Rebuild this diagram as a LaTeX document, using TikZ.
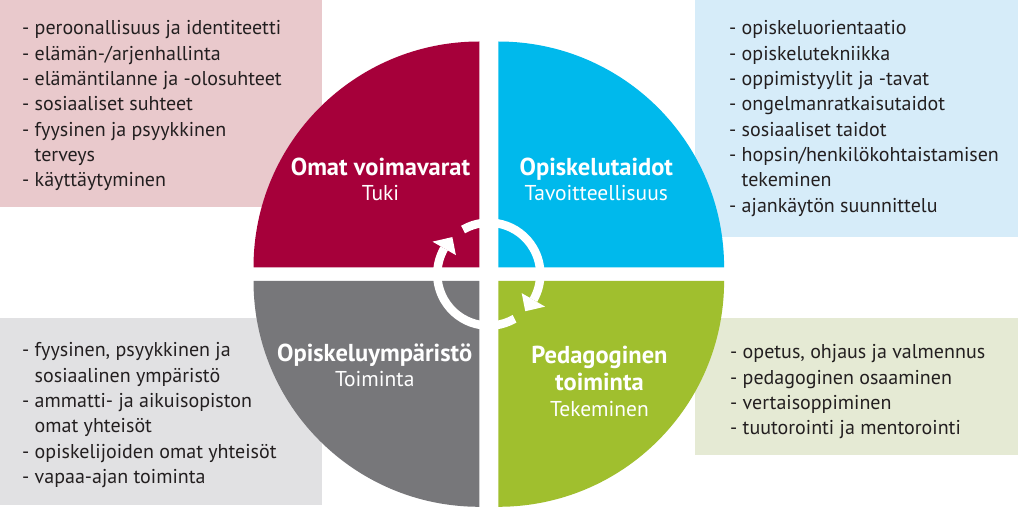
\documentclass[tikz,border=0pt]{standalone}
\usepackage{fontspec}
\setmainfont{PT Sans}
\definecolor{qred}{RGB}{166,0,58}
\definecolor{qblue}{RGB}{0,185,236}
\definecolor{qgray}{RGB}{119,119,122}
\definecolor{qgreen}{RGB}{160,191,46}
\definecolor{bpink}{RGB}{233,201,204}
\definecolor{bblue}{RGB}{214,236,249}
\definecolor{bgray}{RGB}{225,225,227}
\definecolor{bgreen}{RGB}{229,234,212}
\definecolor{txt}{RGB}{35,31,32}
\newcommand\lline[1]{\hbox{#1}}
\newcommand\cont[1]{\hbox{\hphantom{- }#1}}
\newcommand\cln[1]{\hbox to 0pt{\hss#1\hss}}
\begin{document}
\begin{tikzpicture}[x=1pt,y=1pt,
  listtxt/.style={anchor=base west, inner sep=0pt, text=txt, font=\fontsize{20}{25.3}\selectfont},
  qtitle/.style={anchor=base, inner sep=0pt, text=white, font=\bfseries\fontsize{24.5}{26.8}\selectfont},
  qsub/.style={anchor=base, inner sep=0pt, text=white, font=\fontsize{21.5}{26.5}\selectfont},
  ring/.style={draw=white, line width=8.5pt},
  tipfill/.style={fill=white}]
\useasboundingbox (0,0) rectangle (1023,509);
\fill[white] (0,0) rectangle (1023,509);
% background boxes
\fill[bpink] (0,302) rectangle (321.7,509);
\fill[bblue] (695,272.3) rectangle (1018,509);
\fill[bgray] (0,4) rectangle (321.7,190.7);
\fill[bgreen] (695,54) rectangle (1018,190.7);
% quadrants
\fill[qred] (479.3,241.7) -- ++(-225.8,0) arc[start angle=180, end angle=90, radius=225.8] -- cycle;
\fill[qblue] (498.3,241.7) -- ++(0,225.8) arc[start angle=90, end angle=0, radius=225.8] -- cycle;
\fill[qgray] (479.3,228) -- ++(-225.8,0) arc[start angle=180, end angle=270, radius=225.8] -- cycle;
\fill[qgreen] (498.3,228) -- ++(225.8,0) arc[start angle=0, end angle=-90, radius=225.8] -- cycle;
% cycle arrows
\coordinate (c) at (488.8,234.85);
\draw[ring] ([shift={(120:51.5)}]c) arc[start angle=120, end angle=-30, radius=51.5];
\fill[tipfill] ([shift={(-30:38)}]c) -- ([shift={(-30:65)}]c) -- ([shift={(-45.5:52)}]c) -- cycle;
\draw[ring] ([shift={(-60:51.5)}]c) arc[start angle=-60, end angle=-210, radius=51.5];
\fill[tipfill] ([shift={(150:38)}]c) -- ([shift={(150:65)}]c) -- ([shift={(134.5:52)}]c) -- cycle;
% quadrant labels
\node[qtitle] (omat) at (380.5,333) {Omat voimavarat};
\node[qsub] (tuki) at (380.5,308) {Tuki};
\node[qtitle] (opt) at (596.3,333) {Opiskelutaidot};
\node[qsub] (tav) at (596.3,308) {Tavoitteellisuus};
\node[qtitle] (ymp) at (374.7,147.3) {Opiskeluympäristö};
\node[qsub] (toim) at (374.7,122.3) {Toiminta};
\node[qtitle] (ped) at (599.5,145.7) {\vtop{\cln{Pedagoginen}\cln{toiminta}}};
\node[qsub] (tek) at (599.5,92.3) {Tekeminen};
% lists
\node[listtxt] (pinklist) at (22,474) {\vtop{%
  \lline{- peroonallisuus ja identiteetti}%
  \lline{- elämän-/arjenhallinta}%
  \lline{- elämäntilanne ja -olosuhteet}%
  \lline{- sosiaaliset suhteet}%
  \lline{- fyysinen ja psyykkinen}%
  \cont{terveys}%
  \lline{- käyttäytyminen}}};
\node[listtxt] (bluelist) at (729,474) {\vtop{%
  \lline{- opiskeluorientaatio}%
  \lline{- opiskelutekniikka}%
  \lline{- oppimistyylit ja -tavat}%
  \lline{- ongelmanratkaisutaidot}%
  \lline{- sosiaaliset taidot}%
  \lline{- hopsin/henkilökohtaistamisen}%
  \cont{tekeminen}%
  \lline{- ajankäytön suunnittelu}}};
\node[listtxt] (graylist) at (22,152) {\vtop{%
  \lline{- fyysinen, psyykkinen ja}%
  \cont{sosiaalinen ympäristö}%
  \lline{- ammatti- ja aikuisopiston}%
  \cont{omat yhteisöt}%
  \lline{- opiskelijoiden omat yhteisöt}%
  \lline{- vapaa-ajan toiminta}}};
\node[listtxt] (greenlist) at (730,150) {\vtop{%
  \lline{- opetus, ohjaus ja valmennus}%
  \lline{- pedagoginen osaaminen}%
  \lline{- vertaisoppiminen}%
  \lline{- tuutorointi ja mentorointi}}};
\end{tikzpicture}
\end{document}
